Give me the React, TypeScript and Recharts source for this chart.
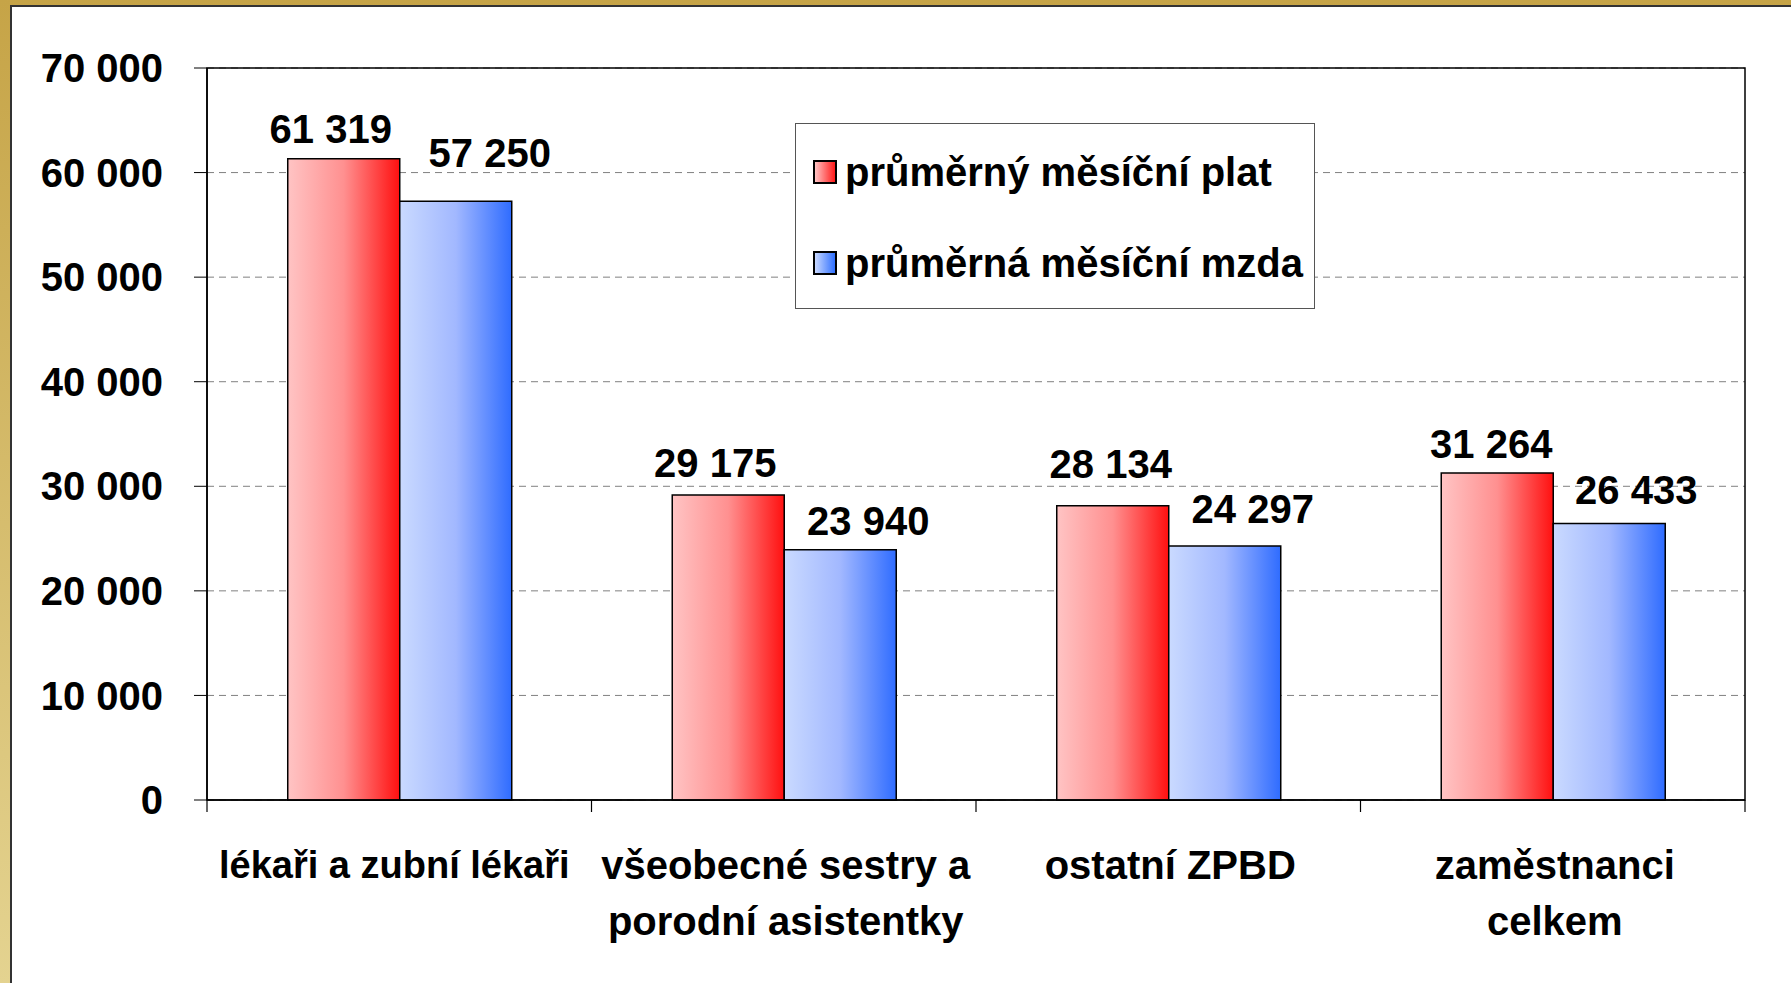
import { Bar, BarChart, CartesianGrid, Legend, ReferenceArea, XAxis, YAxis } from "recharts"

const categories = [
  "lékaři a zubní lékaři",
  "všeobecné sestry a\nporodní asistentky",
  "ostatní ZPBD",
  "zaměstnanci\ncelkem",
]
const plat = [61319, 29175, 28134, 31264]
const mzda = [57250, 23940, 24297, 26433]
const seriesNames = ["průměrný měsíční plat", "průměrná měsíční mzda"]
const yTicks = [0, 10000, 20000, 30000, 40000, 50000, 60000, 70000]

const data = categories.map((name, i) => ({ name, plat: plat[i], mzda: mzda[i] }))

// hand-placed label nudges in the original (dx, dy from bar top centre)
const platNudge = [[-13, -30], [-13, -32], [-2, -42], [-6, -29]]
const mzdaNudge = [[34, -48], [28, -29], [28, -37], [27, -34]]

const FONT = '"Liberation Sans", Arial, sans-serif'

const fmt = (v: number) => String(v).replace(/\B(?=(\d{3})+(?!\d))/g, " ")

const makeLabel = (nudge: number[][]) => (props: any) => {
  const { x, y, width, value, index } = props
  const [dx, dy] = nudge[index] ?? [0, -32]
  return (
    <text
      x={x + width / 2 + dx}
      y={y + dy}
      dy="0.35em"
      textAnchor="middle"
      fontFamily={FONT}
      fontWeight="bold"
      fontSize={40}
      fill="#000"
    >
      {fmt(value)}
    </text>
  )
}

function CategoryTick(props: any) {
  const { x, y, payload, index } = props
  const half = payload?.offset || 192.25
  const lines = String(payload.value).split("\n")
  return (
    <g>
      <line x1={x - half} y1={y} x2={x - half} y2={y + 12} stroke="#000" strokeWidth={1.2} />
      {index === categories.length - 1 && (
        <line x1={x + half} y1={y} x2={x + half} y2={y + 12} stroke="#000" strokeWidth={1.2} />
      )}
      {lines.map((l, i) => (
        <text
          key={i}
          x={index === 0 ? x - 5 : x + 2}
          y={y + 65 + i * 56}
          dy="0.35em"
          textAnchor="middle"
          fontFamily={FONT}
          fontWeight="bold"
          fontSize={index === 0 ? 38 : 40}
          fill="#000"
        >
          {l}
        </text>
      ))}
    </g>
  )
}

function LegendBox() {
  const swatches = [
    "linear-gradient(to right, #ffc4c4, #ff1a1a)",
    "linear-gradient(to right, #c8d8ff, #3070ff)",
  ]
  return (
    <div
      style={{
        width: 520,
        height: 186,
        border: "1.5px solid #555",
        background: "#fff",
        boxSizing: "border-box",
        fontFamily: FONT,
        fontWeight: "bold",
        fontSize: 40,
        color: "#000",
        position: "relative",
      }}
    >
      {seriesNames.map((n, i) => (
        <div
          key={n}
          style={{
            position: "absolute",
            left: 17,
            top: 48 + i * 91 - 24,
            height: 48,
            display: "flex",
            alignItems: "center",
            whiteSpace: "nowrap",
          }}
        >
          <span
            style={{
              display: "inline-block",
              width: 20,
              height: 20,
              border: "2.5px solid #000",
              background: swatches[i],
              marginRight: 8,
            }}
          />
          {n}
        </div>
      ))}
    </div>
  )
}

export default function App() {
  return (
    <div
      style={{
        position: "absolute",
        left: 0,
        top: 0,
        width: 1791,
        height: 983,
        overflow: "hidden",
        background: "linear-gradient(to bottom, #c6a447, #e4d390)",
      }}
    >
      <div
        style={{
          position: "absolute",
          left: 10,
          top: 5,
          width: 1800,
          height: 1000,
          background: "#fff",
          borderLeft: "2px solid #333",
          borderTop: "2px solid #333",
        }}
      />
      <div style={{ position: "absolute", left: 0, top: 0 }}>
        <BarChart
          width={1791}
          height={983}
          data={data}
          margin={{ top: 68, right: 46, bottom: 63, left: 0 }}
          barCategoryGap="21%"
          barGap={0}
        >
          <defs>
            <linearGradient id="gradPlat" x1="0" y1="0" x2="1" y2="0">
              <stop offset="0%" stopColor="#ffc4c4" />
              <stop offset="50%" stopColor="#ff9090" />
              <stop offset="100%" stopColor="#ff1010" />
            </linearGradient>
            <linearGradient id="gradMzda" x1="0" y1="0" x2="1" y2="0">
              <stop offset="0%" stopColor="#cadaff" />
              <stop offset="50%" stopColor="#a2b8ff" />
              <stop offset="100%" stopColor="#2f6cff" />
            </linearGradient>
          </defs>
          <CartesianGrid vertical={false} stroke="#808080" strokeDasharray="7 5" />
          <XAxis
            dataKey="name"
            height={120}
            tickLine={false}
            tickSize={0}
            tickMargin={0}
            axisLine={{ stroke: "#000", strokeWidth: 1.5 }}
            tick={<CategoryTick />}
            interval={0}
          />
          <YAxis
            width={207}
            domain={[0, 70000]}
            ticks={yTicks}
            tickFormatter={fmt}
            tickSize={13}
            tickMargin={31}
            tickLine={{ stroke: "#000" }}
            axisLine={{ stroke: "#000", strokeWidth: 1.5 }}
            tick={{ fontFamily: FONT, fontWeight: "bold", fontSize: 40, fill: "#000" }}
          />
          <ReferenceArea y1={0} y2={70000} fill="none" fillOpacity={0} stroke="#000" strokeWidth={1.5} ifOverflow="visible" />
          <Legend
            layout="horizontal"
            verticalAlign="middle"
            align="center"
            wrapperStyle={{ left: 795, top: 123, width: 520 }}
            content={() => <LegendBox />}
          />
          <Bar
            dataKey="plat"
            name={seriesNames[0]}
            fill="url(#gradPlat)"
            stroke="#000"
            strokeWidth={1.5}
            isAnimationActive={false}
            label={makeLabel(platNudge)}
          />
          <Bar
            dataKey="mzda"
            name={seriesNames[1]}
            fill="url(#gradMzda)"
            stroke="#000"
            strokeWidth={1.5}
            isAnimationActive={false}
            label={makeLabel(mzdaNudge)}
          />
        </BarChart>
      </div>
    </div>
  )
}
